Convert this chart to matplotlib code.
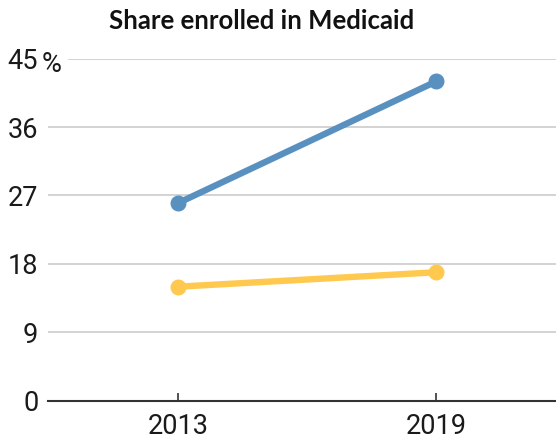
# ==========================================================
# SHARE ENROLLED IN MEDICAID
# ==========================================================

import matplotlib
matplotlib.use("Agg")
import matplotlib.pyplot as plt

# ==========================================================
# DATA
# ==========================================================

years = ["2013", "2019"]

series_blue = [26.0, 42.0]
series_yellow = [15.0, 16.9]

y_ticks = [0, 9, 18, 27, 36, 45]
y_tick_labels = ["0", "9", "18", "27", "36", "45"]

title_text = "Share enrolled in Medicaid"

# ==========================================================
# STYLE
# ==========================================================

BLUE = "#5891c0"
YELLOW = "#ffc94f"
GRID = "#cccccc"
AXIS = "#333333"
TEXT = "#1a1a1a"

NARROW = ["Roboto", "DejaVu Sans"]

W, H = 556, 440

# ==========================================================
# FIGURE
# ==========================================================

fig = plt.figure(figsize=(W / 100, H / 100), dpi=100)

ax = fig.add_axes([
    48 / W,
    1 - 400.7 / H,
    1 - 48 / W,
    342 / H
])

x = list(range(len(years)))

for val in y_ticks[1:]:

    xmin = 21 / (W - 48) if val == 45 else 0

    ax.axhline(val, xmin=xmin, color=GRID, linewidth=1.2, zorder=1)

ax.plot(
    x,
    series_blue,
    color=BLUE,
    linewidth=4.6,
    marker="o",
    markersize=10.5,
    solid_capstyle="round",
    zorder=3
)

ax.plot(
    x,
    series_yellow,
    color=YELLOW,
    linewidth=4.6,
    marker="o",
    markersize=10.5,
    solid_capstyle="round",
    zorder=3
)

ax.set_xlim(-0.504, 1.465)
ax.set_ylim(0, 45)

ax.set_xticks(x)
ax.set_xticklabels(years, family=NARROW, fontsize=19.5, color=TEXT)

ax.set_yticks(y_ticks)
ax.set_yticklabels(y_tick_labels, family=NARROW, fontsize=19.5, color=TEXT)

ax.tick_params(axis="y", length=0, pad=7)
ax.tick_params(axis="x", direction="in", length=6, width=1.2, color=AXIS, pad=9)

for side in ["top", "right", "left"]:
    ax.spines[side].set_visible(False)

ax.spines["bottom"].set_color(AXIS)
ax.spines["bottom"].set_linewidth(1.5)

# hanging percent sign after the top label
fig.text(
    42 / W,
    1 - 62 / H,
    "%",
    family=NARROW,
    fontsize=19.5,
    color=TEXT,
    ha="left",
    va="center_baseline"
)

# ==========================================================
# TITLE
# ==========================================================

fig.text(
    262 / W,
    1 - 21 / H,
    title_text,
    family=["Lato", "DejaVu Sans"],
    fontweight="bold",
    fontsize=18.5,
    ha="center",
    va="center",
    color="#111111"
)

plt.savefig("out.png", dpi=100)

plt.close()
